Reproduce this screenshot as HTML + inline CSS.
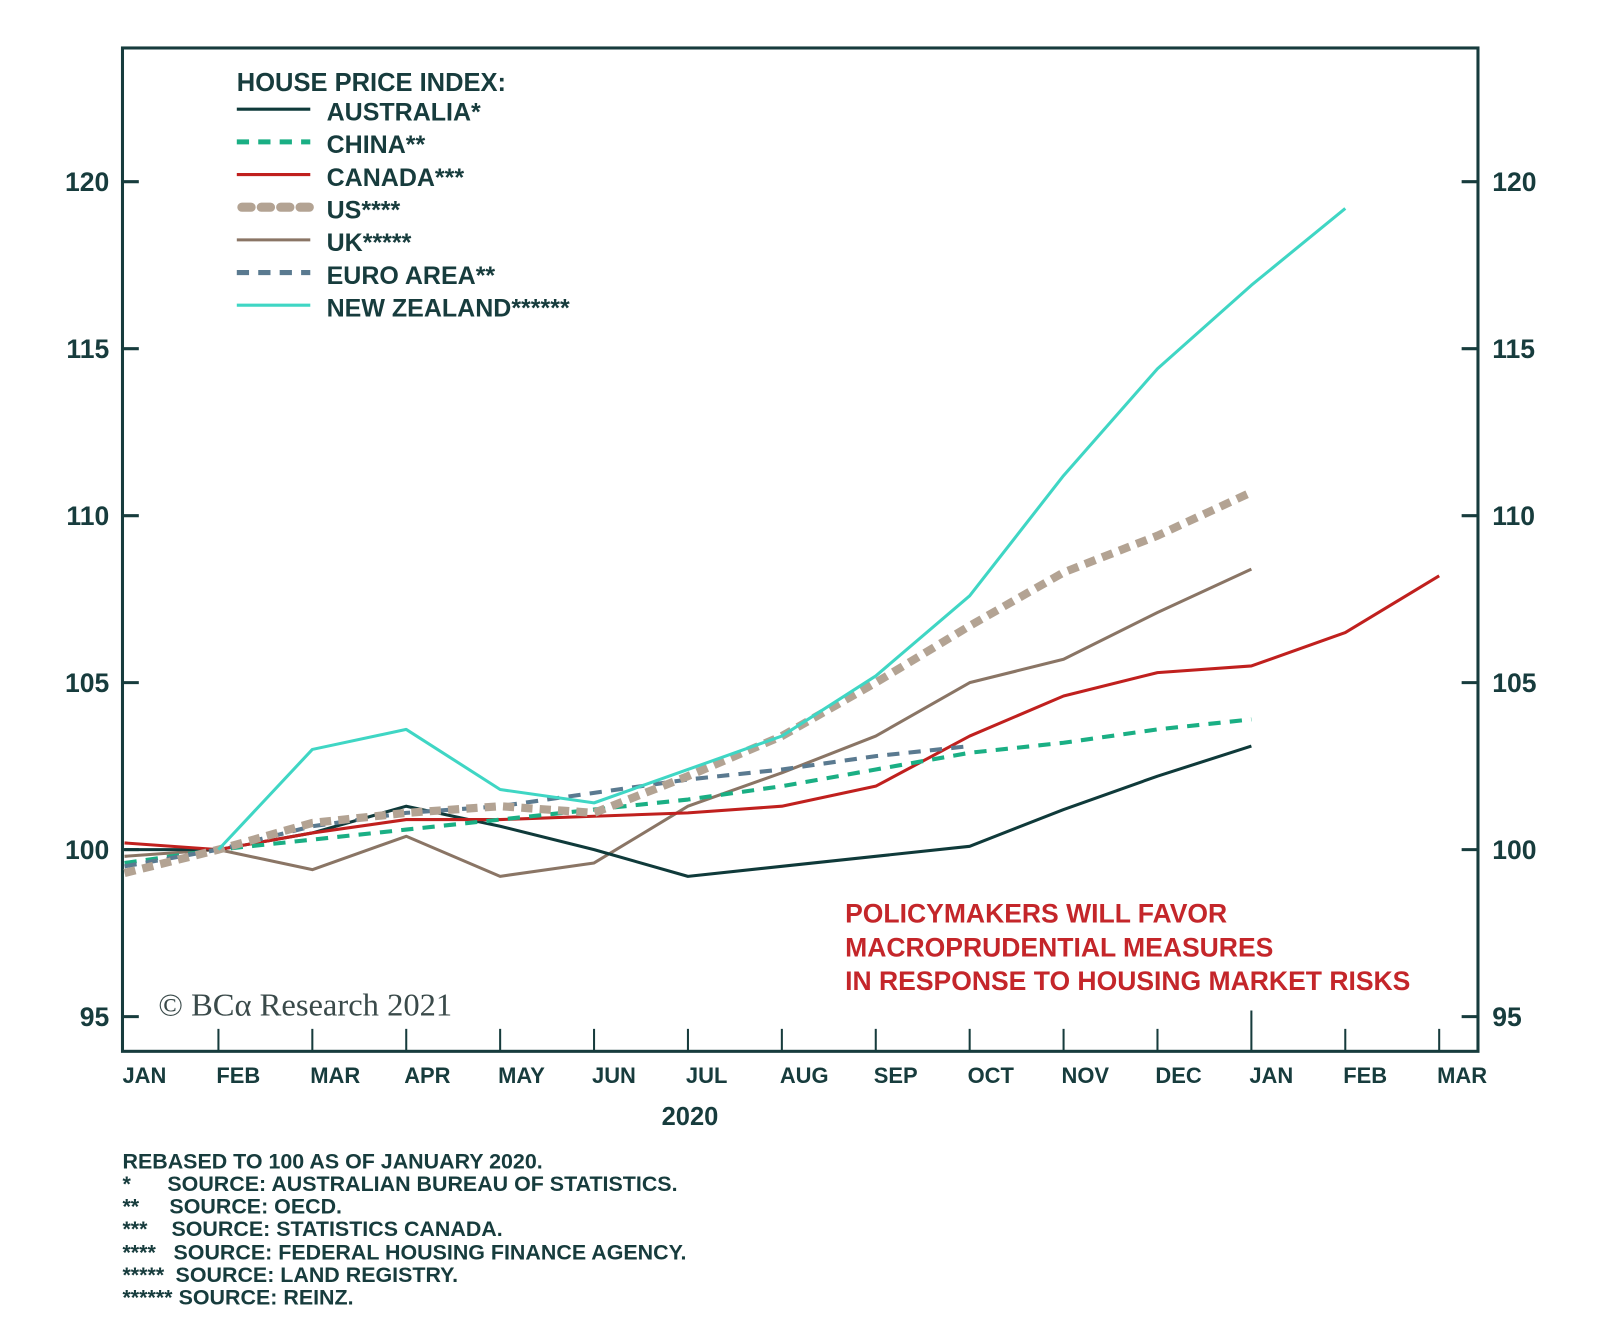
<!DOCTYPE html>
<html><head><meta charset="utf-8">
<style>
html,body{margin:0;padding:0;background:#fff;}
svg{display:block;font-family:"Liberation Sans",sans-serif;}
</style></head>
<body>
<svg id="chart" width="1600" height="1335" viewBox="0 0 1600 1335">
<g transform="scale(1.0207)">
  <rect x="120" y="47" width="1328" height="983" fill="none" stroke="#173c3d" stroke-width="3"/>
  <g id="axes"></g>
  <g id="series"></g>
  <g font-weight="bold" fill="#173c3d" font-size="24.5">
    <text x="232" y="89" font-size="25">HOUSE PRICE INDEX:</text>
    <g id="legend"></g>
  </g>
  <text x="155" y="995" font-family="Liberation Serif,serif" font-size="31" textLength="288" lengthAdjust="spacingAndGlyphs" fill="#3a4a4a">© BCα Research 2021</text>
  <g font-weight="bold" font-size="26" fill="#c4262a">
    <text x="828" y="904">POLICYMAKERS WILL FAVOR</text>
    <text x="828" y="937">MACROPRUDENTIAL MEASURES</text>
    <text x="828" y="970">IN RESPONSE TO HOUSING MARKET RISKS</text>
  </g>
  <text x="676" y="1102" text-anchor="middle" font-weight="bold" font-size="25" fill="#173c3d">2020</text>
  <g font-weight="bold" font-size="21" fill="#173c3d">
    <text x="120" y="1145">REBASED TO 100 AS OF JANUARY 2020.</text>
    <text x="120" y="1167">*</text><text x="164" y="1167">SOURCE: AUSTRALIAN BUREAU OF STATISTICS.</text>
    <text x="120" y="1189">**</text><text x="166" y="1189">SOURCE: OECD.</text>
    <text x="120" y="1211">***</text><text x="168" y="1211">SOURCE: STATISTICS CANADA.</text>
    <text x="120" y="1234">****</text><text x="170" y="1234">SOURCE: FEDERAL HOUSING FINANCE AGENCY.</text>
    <text x="120" y="1256">*****</text><text x="172" y="1256">SOURCE: LAND REGISTRY.</text>
    <text x="120" y="1278">******</text><text x="175" y="1278">SOURCE: REINZ.</text>
  </g>
</g>
</svg>
<script>
const months = ["JAN","FEB","MAR","APR","MAY","JUN","JUL","AUG","SEP","OCT","NOV","DEC","JAN","FEB","MAR"];
const yTicks = [95,100,105,110,115,120];
const australia = [100.0,100.0,100.5,101.3,100.7,100.0,99.2,99.5,99.8,100.1,101.2,102.2,103.1];
const china = [99.6,100.0,100.3,100.6,100.9,101.2,101.5,101.9,102.4,102.9,103.2,103.6,103.9];
const canada = [100.2,100.0,100.5,100.9,100.9,101.0,101.1,101.3,101.9,103.4,104.6,105.3,105.5,106.5,108.2];
const us = [99.3,100.0,100.8,101.1,101.3,101.1,102.2,103.4,105.0,106.7,108.3,109.4,110.7];
const uk = [99.8,100.0,99.4,100.4,99.2,99.6,101.3,102.3,103.4,105.0,105.7,107.1,108.4];
const euro = [99.5,100.0,100.7,101.1,101.3,101.7,102.1,102.4,102.8,103.1];
const nz = [null,100.0,103.0,103.6,101.8,101.4,102.4,103.4,105.2,107.6,111.2,114.4,116.9,119.2];

const NS="http://www.w3.org/2000/svg";
function xPos(i){return 122+92*i;}
function yPos(v){return 178+(120-v)*32.72;}
function mk(tag,attrs,parent){const e=document.createElementNS(NS,tag);for(const k in attrs)e.setAttribute(k,attrs[k]);parent.appendChild(e);return e;}

const axes=document.getElementById('axes');
yTicks.forEach(v=>{
  const y=yPos(v);
  const t1=mk('line',{x1:120,x2:136,y1:y,y2:y,stroke:'#173c3d','stroke-width':3},axes);
  
  
  const t2=mk('line',{x1:1432,x2:1448,y1:y,y2:y,stroke:'#173c3d','stroke-width':3},axes);
  
  
  const l1=mk('text',{x:107,y:y+9,'text-anchor':'end','font-weight':'bold','font-size':26,fill:'#173c3d'},axes);
  l1.textContent=v;
  
  
  const l2=mk('text',{x:1462,y:y+9,'font-weight':'bold','font-size':26,fill:'#173c3d'},axes);
  l2.textContent=v;
  
  
});
months.forEach((m,i)=>{
  const x=xPos(i);
  if(i>0){
    const t=mk('line',{x1:x,x2:x,y1:(i===12?990:1008),y2:1030,stroke:'#173c3d','stroke-width':2},axes);
    
    
  }
  const l=mk('text',{x:x-2,y:1061,'font-weight':'bold','font-size':21.5,fill:'#173c3d'},axes);
  l.textContent=m;
  
  
});

const seriesDefs=[
  {name:'uk',data:uk,color:'#8a7565',w:3,dash:null,label:'UK*****'},
  {name:'australia',data:australia,color:'#0f3a3a',w:3,dash:null,label:'AUSTRALIA*'},
  {name:'canada',data:canada,color:'#c0201e',w:3,dash:null,label:'CANADA***'},
  {name:'china',data:china,color:'#1aaf84',w:4,dash:'12 9',label:'CHINA**'},
  {name:'euro-area',data:euro,color:'#5a7a90',w:4,dash:'12 9',label:'EURO AREA**'},
  {name:'us',data:us,color:'#b3a393',w:8,dash:'11 7',label:'US****',cap:'round'},
  {name:'new-zealand',data:nz,color:'#3fd6c4',w:3,dash:null,label:'NEW ZEALAND******'}
];
const sg=document.getElementById('series');
seriesDefs.forEach(s=>{
  let d='';s.data.forEach((v,i)=>{if(v==null)return;d+=(d?'L':'M')+xPos(i)+','+yPos(v);});
  const p=mk('path',{d:d,fill:'none',stroke:s.color,'stroke-width':s.w,'stroke-linejoin':'round'},sg);
  if(s.dash)p.setAttribute('stroke-dasharray',s.dash);
  
  
});
const order=['australia','china','canada','us','uk','euro-area','new-zealand'];
const lg=document.getElementById('legend');
order.forEach((n,k)=>{
  const s=seriesDefs.find(q=>q.name===n);
  const y=107+k*32;
  const ln=mk('line',{x1:232,x2:304,y1:y,y2:y,stroke:s.color,'stroke-width':s.w===8?9:(s.w===4?5:3)},lg);
  if(s.dash)ln.setAttribute('stroke-dasharray',s.w===8?'14 5':'12 9');
  if(s.cap){ln.setAttribute('stroke-linecap','round');ln.setAttribute('stroke-dasharray','9 10');ln.setAttribute('x1',237);}
  
  
  const t=mk('text',{x:320,y:y+11},lg);
  t.textContent=s.label;
  
  
});
</script>
</body></html>
